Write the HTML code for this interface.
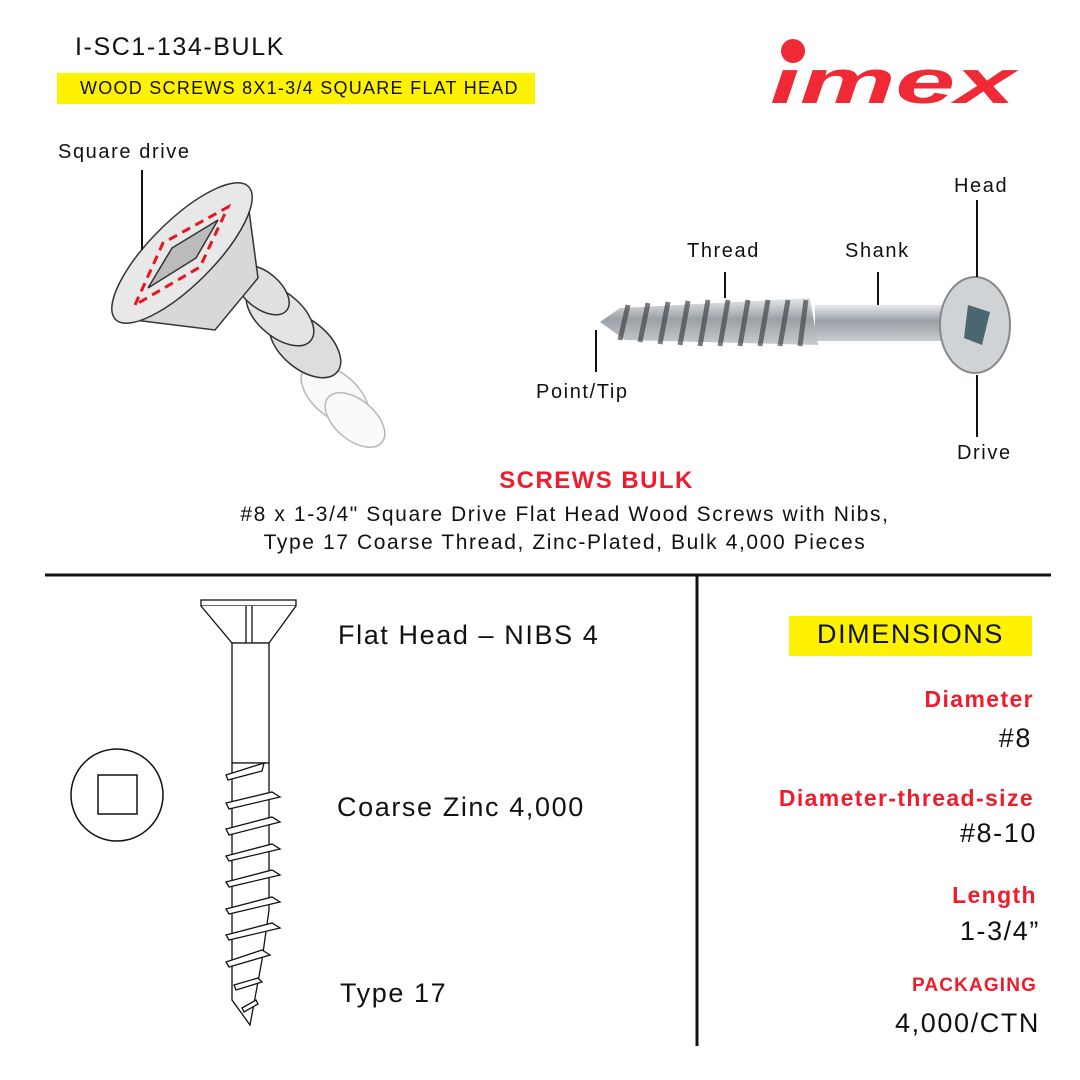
<!DOCTYPE html>
<html><head><meta charset="utf-8"><style>
html,body{margin:0;padding:0;background:#fff}
body{width:1080px;height:1080px;position:relative;overflow:hidden;font-family:"Liberation Sans",sans-serif;color:#111;letter-spacing:0.1em}
.t{position:absolute;white-space:nowrap}
.r{position:absolute;right:44px;text-align:right;white-space:nowrap}
.red{color:#ef1c2c;font-weight:bold;letter-spacing:0.06em}
</style></head><body>
<div class="t" style="left:75px;top:33px;font-size:25px;">I-SC1-134-BULK</div>
<div class="t" style="left:57px;top:73px;width:478px;height:31px;background:#fff200;"></div>
<div class="t" style="left:80px;top:78px;font-size:18px;letter-spacing:0.07em">WOOD SCREWS 8X1-3/4 SQUARE FLAT HEAD</div>

<svg class="t" style="left:0;top:0" width="1080" height="1080">
 <circle cx="793" cy="51" r="12" fill="#ef2a36"/>
 <text x="770" y="103" font-family="Liberation Sans" font-weight="bold" font-style="italic" font-size="62" fill="#ef2a36" textLength="245" lengthAdjust="spacingAndGlyphs" letter-spacing="0">ımex</text>

 <g stroke="#333" stroke-width="1.5">
  <g opacity="0.35">
   <ellipse cx="335" cy="395" rx="40" ry="22" transform="rotate(40 335 395)" fill="#eee"/>
   <ellipse cx="355" cy="420" rx="35" ry="20" transform="rotate(40 355 420)" fill="#f2f2f2"/>
  </g>
  <ellipse cx="305" cy="345" rx="42" ry="24" transform="rotate(40 305 345)" fill="#ddd"/>
  <ellipse cx="280" cy="315" rx="40" ry="22" transform="rotate(40 280 315)" fill="#e4e4e4"/>
  <ellipse cx="262" cy="290" rx="32" ry="18" transform="rotate(40 262 290)" fill="#e0e0e0"/>
  <path d="M118,318 L215,330 L258,278 L246,188 Z" fill="#d8d8d8"/>
  <ellipse cx="182" cy="253" rx="94" ry="32" transform="rotate(-45 182 253)" fill="#e8e8e8"/>
  <path d="M148,288 L172,248 L218,220 L196,258 Z" fill="#bbb"/>
 </g>
 <path d="M135,305 L163,243 L228,207 L200,267 Z" fill="none" stroke="#e8141f" stroke-width="3" stroke-dasharray="9,6"/>
 <line x1="142" y1="170" x2="142" y2="250" stroke="#111" stroke-width="2"/>

 <defs>
  <linearGradient id="g" x1="0" y1="0" x2="0" y2="1">
   <stop offset="0" stop-color="#e6e9ec"/><stop offset="0.45" stop-color="#9aa1a6"/><stop offset="1" stop-color="#c7cbce"/>
  </linearGradient>
 </defs>
 <rect x="815" y="305" width="135" height="36" fill="url(#g)"/>
 <path d="M600,322 L620,308 L810,298 L818,345 L625,340 Z" fill="url(#g)"/>
 <g stroke="#444" stroke-width="5" opacity="0.7">
  <line x1="628" y1="305" x2="620" y2="340"/><line x1="648" y1="303" x2="640" y2="342"/>
  <line x1="668" y1="302" x2="660" y2="344"/><line x1="688" y1="301" x2="680" y2="345"/>
  <line x1="708" y1="300" x2="700" y2="346"/><line x1="728" y1="300" x2="720" y2="346"/>
  <line x1="748" y1="300" x2="740" y2="346"/><line x1="768" y1="300" x2="760" y2="346"/>
  <line x1="788" y1="300" x2="780" y2="346"/><line x1="806" y1="300" x2="800" y2="346"/>
 </g>
 <ellipse cx="975" cy="325" rx="35" ry="48" fill="#cfd3d6" stroke="#888" stroke-width="2"/>
 <path d="M968,305 L990,312 L982,345 L964,338 Z" fill="#4a6670"/>
 <g stroke="#111" stroke-width="2">
  <line x1="725" y1="272" x2="725" y2="298"/>
  <line x1="878" y1="272" x2="878" y2="305"/>
  <line x1="977" y1="200" x2="977" y2="277"/>
  <line x1="977" y1="375" x2="977" y2="437"/>
  <line x1="596" y1="330" x2="596" y2="372"/>
 </g>

 <line x1="45" y1="575" x2="1051" y2="575" stroke="#111" stroke-width="3"/>
 <line x1="697" y1="575" x2="697" y2="1046" stroke="#111" stroke-width="3"/>

 <circle cx="117" cy="795" r="46" fill="none" stroke="#111" stroke-width="1.5"/>
 <rect x="98" y="775" width="39" height="39" fill="none" stroke="#111" stroke-width="1.5"/>

 <g fill="#fff" stroke="#111" stroke-width="1.3">
  <rect x="201" y="600" width="95" height="6"/>
  <path d="M201,606 L232,643 L269,643 L296,606"/>
  <path d="M246,606 L246,643 L249,650 L252,643 L252,606"/>
  <rect x="232" y="643" width="37" height="120"/>
  <path d="M232,763 L232,1000 L250,1025 L262,960 L269,910 L269,763 Z"/>
  <path d="M226,775 L264,763 L262,771 L228,780 Z"/>
  <path d="M226,803 L272,792 L280,797 L229,809 Z"/>
  <path d="M226,829 L272,817 L280,822 L229,835 Z"/>
  <path d="M226,856 L272,844 L280,849 L229,861 Z"/>
  <path d="M226,882 L272,870 L280,875 L229,887 Z"/>
  <path d="M226,909 L272,897 L280,902 L229,914 Z"/>
  <path d="M226,935 L272,923 L280,928 L229,940 Z"/>
  <path d="M226,962 L262,950 L270,955 L229,967 Z"/>
  <path d="M234,985 L258,978 L262,982 L236,990 Z"/>
  <path d="M242,1008 L256,1000 L258,1004 L244,1012 Z"/>
 </g>
</svg>

<div class="t" style="left:58px;top:141px;font-size:20px;">Square drive</div>
<div class="t" style="left:954px;top:175px;font-size:20px;">Head</div>
<div class="t" style="left:687px;top:240px;font-size:20px;">Thread</div>
<div class="t" style="left:845px;top:240px;font-size:20px;">Shank</div>
<div class="t" style="left:536px;top:381px;font-size:20px;">Point/Tip</div>
<div class="t" style="left:957px;top:442px;font-size:20px;">Drive</div>

<div class="t red" style="left:0;width:1193px;text-align:center;top:467px;font-size:24px;">SCREWS BULK</div>
<div class="t" style="left:0;width:1130px;text-align:center;top:501px;font-size:21px;line-height:28px;">#8 x 1-3/4" Square Drive Flat Head Wood Screws with Nibs,<br>Type 17 Coarse Thread, Zinc-Plated, Bulk 4,000 Pieces</div>

<div class="t" style="left:338px;top:620px;font-size:27px;">Flat Head – NIBS 4</div>
<div class="t" style="left:337px;top:792px;font-size:27px;">Coarse Zinc 4,000</div>
<div class="t" style="left:340px;top:978px;font-size:27px;">Type 17</div>

<div class="t" style="left:789px;top:616px;width:243px;height:40px;background:#fff200;"></div>
<div class="t" style="left:789px;top:619px;width:243px;text-align:center;font-size:27px;">DIMENSIONS</div>

<div class="r red" style="top:686px;font-size:23px;right:46px">Diameter</div>
<div class="r" style="top:723px;font-size:27px;right:48px;">#8</div>
<div class="r red" style="top:785px;font-size:23px;right:46px">Diameter-thread-size</div>
<div class="r" style="top:818px;font-size:27px;right:43px">#8-10</div>
<div class="r red" style="top:882px;font-size:23px;right:43px;">Length</div>
<div class="r" style="top:916px;font-size:27px;right:40px;">1-3/4”</div>
<div class="r red" style="top:975px;font-size:19px;right:43px;">PACKAGING</div>
<div class="r" style="top:1008px;font-size:27px;right:40px;">4,000/CTN</div>
</body></html>
